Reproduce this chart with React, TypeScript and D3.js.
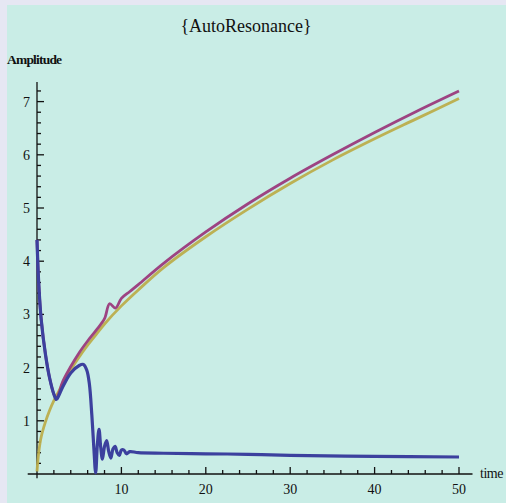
import React from 'react';
import * as d3 from 'd3';

// series: [time, amplitude]
const blueSeries: [number, number][] = [
  [0, 4.4], [0.2, 3.6], [0.5, 2.9], [1, 2.25], [1.5, 1.8], [2, 1.5], [2.3, 1.4],
  [2.6, 1.48], [3, 1.62], [4, 1.9], [5, 2.04], [5.5, 2.06], [5.9, 1.95], [6.2, 1.7],
  [6.5, 1.1], [6.75, 0.45], [6.95, 0.02], [7.15, 0.55], [7.35, 0.84], [7.55, 0.5],
  [7.75, 0.28], [8.0, 0.52], [8.25, 0.63], [8.5, 0.42], [8.75, 0.3], [9.0, 0.47],
  [9.25, 0.52], [9.5, 0.4], [9.75, 0.35], [10.0, 0.45], [10.3, 0.45], [10.6, 0.38],
  [11, 0.42], [12, 0.4], [15, 0.39], [20, 0.38], [25, 0.37], [30, 0.35], [40, 0.33], [50, 0.32]
];

const purpleSeries: [number, number][] = [
  [0, 4.4], [0.2, 3.6], [0.5, 2.9], [1, 2.25], [1.5, 1.8], [2, 1.5], [2.3, 1.42],
  [2.6, 1.52], [3, 1.72], [4, 2.02], [5, 2.28], [6, 2.5], [7, 2.7], [8, 2.92],
  [8.6, 3.2], [9.3, 3.12], [10, 3.3], [11, 3.43], [12, 3.56], [15, 3.96], [20, 4.55],
  [25, 5.08], [30, 5.56], [35, 6.0], [40, 6.42], [45, 6.82], [50, 7.2]
];

const yellowSeries: [number, number][] = [
  [0, 0.05], [0.2, 0.4], [0.5, 0.7], [1, 0.98], [1.5, 1.2], [2, 1.38], [3, 1.68],
  [4, 1.96], [5, 2.2], [6, 2.42], [7, 2.62], [8, 2.82], [10, 3.16], [12, 3.46],
  [15, 3.88], [20, 4.46], [25, 4.98], [30, 5.46], [35, 5.9], [40, 6.3], [45, 6.68], [50, 7.06]
];

const xTicks = [10, 20, 30, 40, 50];
const yTicks = [1, 2, 3, 4, 5, 6, 7];

const W = 506;
const H = 503;

export default function App() {
  const x = d3.scaleLinear().domain([0, 50]).range([37, 459]);
  const y = d3.scaleLinear().domain([0, 7]).range([474, 101.6]);

  const line = d3.line<[number, number]>()
    .x(d => x(d[0]))
    .y(d => y(d[1]))
    .curve(d3.curveCatmullRom.alpha(0.5));

  const xMinor = d3.range(2, 51, 2).filter(v => v % 10 !== 0);
  const yMinor = d3.range(1, 37).map(i => i * 0.2).filter(v => Math.abs(v - Math.round(v)) > 0.01);

  const font = '"Liberation Serif", "DejaVu Serif", serif';

  return (
    <svg width={W} height={H} style={{ position: 'absolute', left: 0, top: 0 }}>
      <rect x={0} y={0} width={W} height={H} fill="#e6e7f3" />
      <rect x={7} y={5} width={W - 7} height={H - 5} fill="#c9ede6" />

      <text x={246} y={32} textAnchor="middle" fontFamily={font} fontSize={18} fill="#111">
        {'{AutoResonance}'}
      </text>
      <text x={7} y={64} fontFamily={font} fontSize={13.5} fontWeight="bold" letterSpacing={-0.8} fill="#111">
        Amplitude
      </text>

      {/* axes */}
      <g stroke="#111" strokeWidth={1.3} fill="none">
        <line x1={x(-1.1)} x2={x(51.6)} y1={y(0)} y2={y(0)} />
        <line x1={x(0)} x2={x(0)} y1={y(-0.08)} y2={y(7.37)} />
        {xTicks.map(t => (
          <line key={'xM' + t} x1={x(t)} x2={x(t)} y1={y(0)} y2={y(0) - 7} />
        ))}
        {xMinor.map(t => (
          <line key={'xm' + t} x1={x(t)} x2={x(t)} y1={y(0)} y2={y(0) - 4} />
        ))}
        {yTicks.map(t => (
          <line key={'yM' + t} x1={x(0)} x2={x(0) + 7} y1={y(t)} y2={y(t)} />
        ))}
        {yMinor.map(t => (
          <line key={'ym' + t} x1={x(0)} x2={x(0) + 4} y1={y(t)} y2={y(t)} />
        ))}
      </g>

      {xTicks.map(t => (
        <text key={'xl' + t} x={x(t)} y={y(0) + 20} textAnchor="middle" fontFamily={font} fontSize={14} fill="#111">
          {t}
        </text>
      ))}
      {yTicks.map(t => (
        <text key={'yl' + t} x={x(0) - 7} y={y(t) + 5} textAnchor="end" fontFamily={font} fontSize={14} fill="#111">
          {t}
        </text>
      ))}
      <text x={480} y={478} fontFamily={font} fontSize={14} letterSpacing={-0.5} fill="#111">time</text>

      {/* curves */}
      <path d={line(yellowSeries) ?? ''} fill="none" stroke="#bcae4c" strokeWidth={2.8} strokeOpacity={0.95} />
      <path d={line(purpleSeries) ?? ''} fill="none" stroke="#9b3a7c" strokeWidth={2.8} strokeOpacity={0.95} />
      <path d={line(blueSeries) ?? ''} fill="none" stroke="#3c409e" strokeWidth={3.2} strokeLinejoin="round" />
    </svg>
  );
}
